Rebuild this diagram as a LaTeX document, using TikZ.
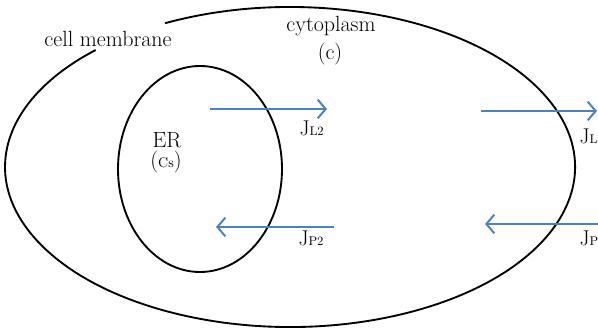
\documentclass[tikz,border=0pt]{standalone}
\usepackage{fontspec}
\usetikzlibrary{arrows.meta}
\definecolor{fluxblue}{RGB}{79,129,189}
\tikzset{every picture/.style={line width=0.75pt}}
\tikzset{
  membrane/.style={line width=1.4pt},
  flux/.style={draw=fluxblue, line width=1.5pt, -{Straight Barb[length=6pt,width=14pt,line width=1.5pt]}},
  lbl/.style={anchor=base, inner sep=0.75pt, font=\fontsize{16.5}{19}\selectfont},
  fluxlbl/.style={anchor=base west, inner sep=0.75pt, font=\fontsize{16}{19}\selectfont}
}
\newcommand{\fluxname}[1]{J{\fontsize{9.5}{11}\selectfont #1}}

\begin{document}
\begin{tikzpicture}[x=0.75pt,y=0.75pt,yscale=-1,xscale=1]
        \useasboundingbox (0,0) rectangle (598,328);
        % cell membrane, open where its label sits
        \draw [membrane] (165.1,23.2) arc [start angle=244, end angle=587, x radius=285, y radius=160];
        % ER
        \draw [membrane] (200,169) ellipse [x radius=82, y radius=103];

        \node [lbl] (memb) at (108,46) {cell membrane};
        \node [lbl] (cyto) at (331,32) {cytoplasm};
        \node [lbl] (cytoc) at (330,60) {(c)};
        \node [lbl] (er) at (167,147) {ER};
        \node [lbl] (erc) at (166,167) {({\fontsize{10.5}{12}\selectfont Cs})};

        \coordinate (l2a) at (210,109);
        \coordinate (l2b) at (327,109);
        \coordinate (p2a) at (334,227);
        \coordinate (p2b) at (216,227);
        \coordinate (l1a) at (481,111);
        \coordinate (l1b) at (597,111);
        \coordinate (p1a) at (604,224);
        \coordinate (p1b) at (485,224);
        \draw [flux] (l2a) -- (l2b);
        \draw [flux] (p2a) -- (p2b);
        \draw [flux] (l1a) -- (l1b);
        \draw [flux] (p1a) -- (p1b);

        \node [fluxlbl] (jl2) at (298,135) {\fluxname{L2}};
        \node [fluxlbl] (jp2) at (297,245) {\fluxname{P2}};
        \node [fluxlbl] (jl1) at (578,143) {\fluxname{L1}};
        \node [fluxlbl] (jp1) at (578,245) {\fluxname{P1}};
\end{tikzpicture}
\end{document}
